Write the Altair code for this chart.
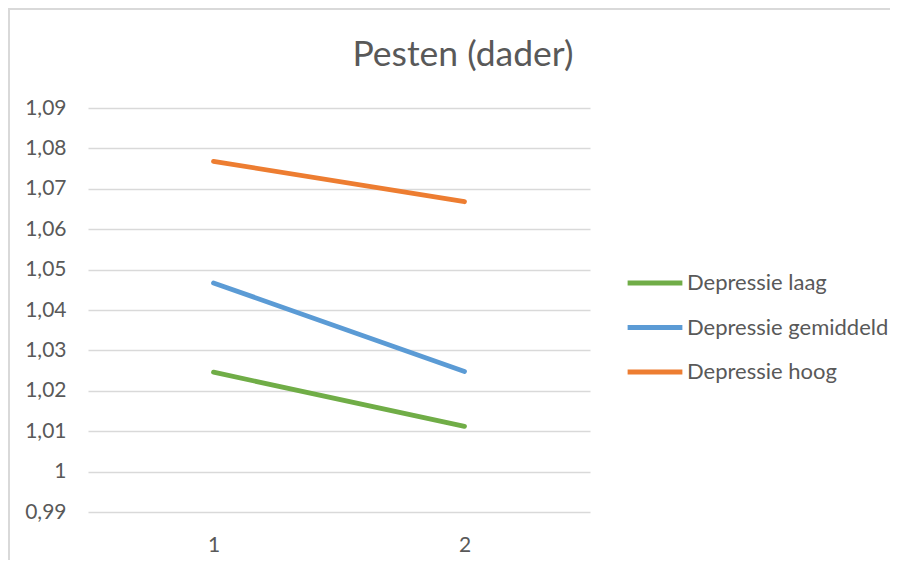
import altair as alt
import pandas as pd

# Data
categories = ["1", "2"]
series_names = ["Depressie laag", "Depressie gemiddeld", "Depressie hoog"]
laag = [1.0246, 1.0112]
gemiddeld = [1.0467, 1.0248]
hoog = [1.0768, 1.0668]
y_ticks = [0.99, 1.00, 1.01, 1.02, 1.03, 1.04, 1.05, 1.06, 1.07, 1.08, 1.09]
colors = ["#70ad47", "#5b9bd5", "#ed7d31"]

rows = []
for name, vals in zip(series_names, [laag, gemiddeld, hoog]):
    for c, v in zip(categories, vals):
        rows.append({"Meting": c, "Waarde": v, "Reeks": name})
df = pd.DataFrame(rows)

FONT = "Lato"
TXT = "#595959"
GRID = "#d9d9d9"

lines = alt.Chart(df).mark_line(strokeWidth=4.8, strokeCap="round").encode(
    x=alt.X("Meting:N", sort=categories, title=None,
            scale=alt.Scale(paddingInner=0, paddingOuter=0.5),
            axis=alt.Axis(labelAngle=0, domain=False, ticks=False, grid=False,
                          labelPadding=22, labelFontSize=21, labelColor=TXT, labelFont=FONT)),
    y=alt.Y("Waarde:Q", title=None,
            scale=alt.Scale(domain=[0.99, 1.09], nice=False, zero=False),
            axis=alt.Axis(values=y_ticks, domain=False, ticks=False, grid=True,
                          gridColor=GRID, gridWidth=1.5,
                          labelExpr="replace(format(datum.value, '.2~f'), '.', ',')",
                          labelPadding=22, labelFontSize=21, labelColor=TXT, labelFont=FONT)),
    color=alt.Color("Reeks:N", sort=series_names,
                    scale=alt.Scale(domain=series_names, range=colors),
                    legend=alt.Legend(title=None, orient="none", legendX=537, legendY=145,
                                      symbolType="stroke", symbolSize=3000, symbolStrokeWidth=4.8,
                                      labelFontSize=22, labelColor=TXT, labelFont=FONT,
                                      labelOffset=2, rowPadding=3.5, labelLimit=400)),
)

border_data = alt.Data(values=[{"k": 0}])
left_border = alt.Chart(border_data).mark_rule(color=GRID, strokeWidth=2).encode(
    x=alt.value(-79), y=alt.value(-99), y2=alt.value(460))
top_border = alt.Chart(border_data).mark_rule(color=GRID, strokeWidth=2).encode(
    x=alt.value(-80), x2=alt.value(805), y=alt.value(-99))

chart = alt.layer(left_border, top_border, lines).properties(
    width=502, height=404,
    autosize=alt.AutoSizeParams(type="none"),
    padding={"left": 80, "top": 100, "right": 300, "bottom": 48},
    title=alt.TitleParams("Pesten (dader)", anchor="middle", frame="group", dx=124,
                          fontSize=35.5, fontWeight="normal", color=TXT, font=FONT,
                          offset=0, dy=65),
).configure(background="white").configure_view(stroke=None)

chart.save("out.html", embed_options={"renderer": "svg", "actions": False})
